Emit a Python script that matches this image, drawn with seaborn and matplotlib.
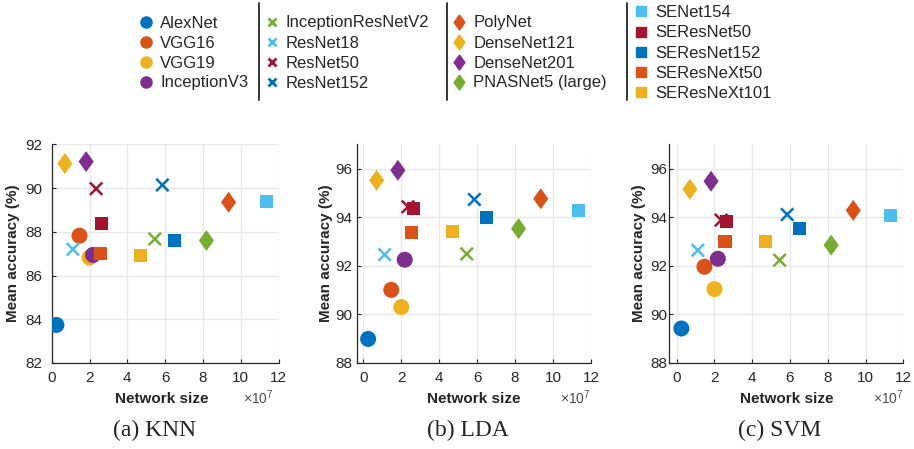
import pandas as pd
import matplotlib
matplotlib.use('Agg')
import matplotlib.pyplot as plt
import seaborn as sns
from matplotlib.lines import Line2D
from matplotlib.markers import MarkerStyle
from matplotlib.ticker import FuncFormatter

# models, grouped by marker shape
models = ['AlexNet', 'VGG16', 'VGG19', 'InceptionV3',
          'InceptionResNetV2', 'ResNet18', 'ResNet50', 'ResNet152',
          'PolyNet', 'DenseNet121', 'DenseNet201', 'PNASNet5 (large)',
          'SENet154', 'SEResNet50', 'SEResNet152', 'SEResNeXt50', 'SEResNeXt101']
groups = ['circle'] * 4 + ['cross'] * 4 + ['diamond'] * 4 + ['square'] * 5
colors = ['#0072BD', '#D95319', '#EDB120', '#7E2F8E',
          '#77AC30', '#4DBEEE', '#A2142F', '#0072BD',
          '#D95319', '#EDB120', '#7E2F8E', '#77AC30',
          '#4DBEEE', '#A2142F', '#0072BD', '#D95319', '#EDB120']

# number of parameters
net_size = [0.25e7, 1.47e7, 2.0e7, 2.18e7,
            5.45e7, 1.12e7, 2.35e7, 5.85e7,
            9.35e7, 0.7e7, 1.82e7, 8.18e7,
            11.33e7, 2.62e7, 6.5e7, 2.56e7, 4.69e7]

# mean accuracy (%) per classifier
knn_acc = [83.74, 87.82, 86.82, 86.94,
           87.67, 87.2, 89.97, 90.14,
           89.35, 91.12, 91.21, 87.6,
           89.39, 88.37, 87.61, 87.02, 86.9]
lda_acc = [88.99, 91.01, 90.3, 92.25,
           92.49, 92.46, 94.43, 94.73,
           94.76, 95.52, 95.93, 93.53,
           94.28, 94.35, 93.98, 93.38, 93.42]
svm_acc = [89.42, 91.96, 91.04, 92.29,
           92.23, 92.64, 93.88, 94.11,
           94.28, 95.15, 95.48, 92.85,
           94.07, 93.84, 93.55, 93.0, 93.0]

classifiers = ['KNN', 'LDA', 'SVM']
captions = ['(a) KNN', '(b) LDA', '(c) SVM']

frames = []
for clf, acc in zip(classifiers, [knn_acc, lda_acc, svm_acc]):
    frames.append(pd.DataFrame({'model': models, 'group': groups,
                                'size': net_size, 'acc': acc, 'clf': clf}))
df = pd.concat(frames, ignore_index=True)
palette = dict(zip(models, colors))

diamond = MarkerStyle([(0, 1), (0.72, 0), (0, -1), (-0.72, 0), (0, 1)])
marker_map = {'circle': 'o', 'cross': 'x', 'diamond': diamond, 'square': 's'}
size_map = {'circle': 133, 'cross': 80, 'diamond': 228, 'square': 88}

sns.set_style('whitegrid')
plt.rcParams['font.family'] = ['Liberation Sans', 'DejaVu Sans']
plt.rcParams['mathtext.fontset'] = 'custom'
plt.rcParams['mathtext.rm'] = 'Liberation Sans'

W, H = 914, 449
fig = plt.figure(figsize=(W / 100, H / 100), dpi=100)

# axes boxes in pixels: left, right, top, bottom
boxes = [(51.7, 278.7), (357.3, 591.0), (669.3, 903.3)]
ylims = [(82, 92), (88, 97), (88, 97)]
xmins = [0, -0.32e7, -0.39e7]
ylab_x = [-0.14, -0.106, -0.10]
ytick_pad = [6.5, 3.3, 1.2]
xlab_x = [0.486, 0.5, 0.5]
off_x = [0.979, 1.0, 1.0]
cap_x = [154.8, 467.7, 779.7]
top, bottom = 144.3, 363.0

for i, clf in enumerate(classifiers):
    l, r = boxes[i]
    ax = fig.add_axes([l / W, 1 - bottom / H, (r - l) / W, (bottom - top) / H])
    sub = df[df['clf'] == clf]
    for g in ['circle', 'cross', 'diamond', 'square']:
        kw = dict(linewidth=1.8) if g == 'cross' else dict(linewidth=0)
        sns.scatterplot(data=sub[sub['group'] == g], x='size', y='acc',
                        hue='model', palette=palette, marker=marker_map[g],
                        s=size_map[g], legend=False, ax=ax, zorder=3, **kw)
    ax.set_xlim(xmins[i], 12e7)
    ax.set_ylim(*ylims[i])
    ax.set_xticks([0, 2e7, 4e7, 6e7, 8e7, 10e7, 12e7])
    ax.set_yticks(range(ylims[i][0], 97, 2) if i else range(82, 93, 2))
    ax.xaxis.set_major_formatter(FuncFormatter(lambda v, p: f'{v / 1e7:g}'))
    ax.grid(True, color='#e8e8e8', linewidth=1.0)
    for s in ['top', 'right']:
        ax.spines[s].set_visible(False)
    for s in ['left', 'bottom']:
        ax.spines[s].set_color('#262626')
        ax.spines[s].set_linewidth(0.9)
    ax.tick_params(direction='in', length=3, width=0.8, colors='#262626',
                   labelsize=11, left=True, bottom=True)
    ax.tick_params(axis='x', pad=6)
    ax.tick_params(axis='y', pad=ytick_pad[i])
    ax.set_xlabel('Network size', fontsize=11, fontweight='bold', color='#262626')
    ax.set_ylabel('Mean accuracy (%)', fontsize=11, fontweight='bold', color='#262626')
    ax.xaxis.set_label_coords(xlab_x[i], -0.133)
    ax.yaxis.set_label_coords(ylab_x[i], 0.5)
    ax.text(off_x[i], -0.1875, r'$\times\mathregular{10^7}$', transform=ax.transAxes,
            ha='right', va='baseline', fontsize=10, color='#4d4d4d')
    fig.text(cap_x[i] / W, 1 - 436 / H, captions[i], ha='center', va='baseline',
             fontsize=17, family='Liberation Serif')

# legend: four columns, one per marker shape
leg_marker = {'circle': dict(marker='o', markersize=8),
              'cross': dict(marker='x', markersize=6, markeredgewidth=2),
              'diamond': dict(marker=diamond, markersize=10.8),
              'square': dict(marker='s', markersize=7)}
leg_left = {'circle': 137.7, 'cross': 263.4, 'diamond': 450.7, 'square': 632.7}
leg_top = {'circle': 15.5, 'cross': 15.5, 'diamond': 15.5, 'square': 5.3}
leg_space = {'circle': 0.3, 'cross': 0.3, 'diamond': 0.3, 'square': 0.31}
for g in ['circle', 'cross', 'diamond', 'square']:
    handles = [Line2D([], [], linestyle='none', color=c, label=m, **leg_marker[g])
               for m, c, gg in zip(models, colors, groups) if gg == g]
    fig.legend(handles=handles, loc='upper left',
               bbox_to_anchor=(leg_left[g] / W, 1 - leg_top[g] / H),
               frameon=False, fontsize=12, handlelength=1.0, handletextpad=0.35,
               labelspacing=leg_space[g], borderpad=0, borderaxespad=0)

for x in [259.3, 447.3, 626.7]:
    fig.add_artist(Line2D([x / W, x / W], [1 - 2.5 / H, 1 - 100 / H],
                          transform=fig.transFigure, color='#262626', linewidth=1.3))

fig.savefig('out.png', dpi=100)
